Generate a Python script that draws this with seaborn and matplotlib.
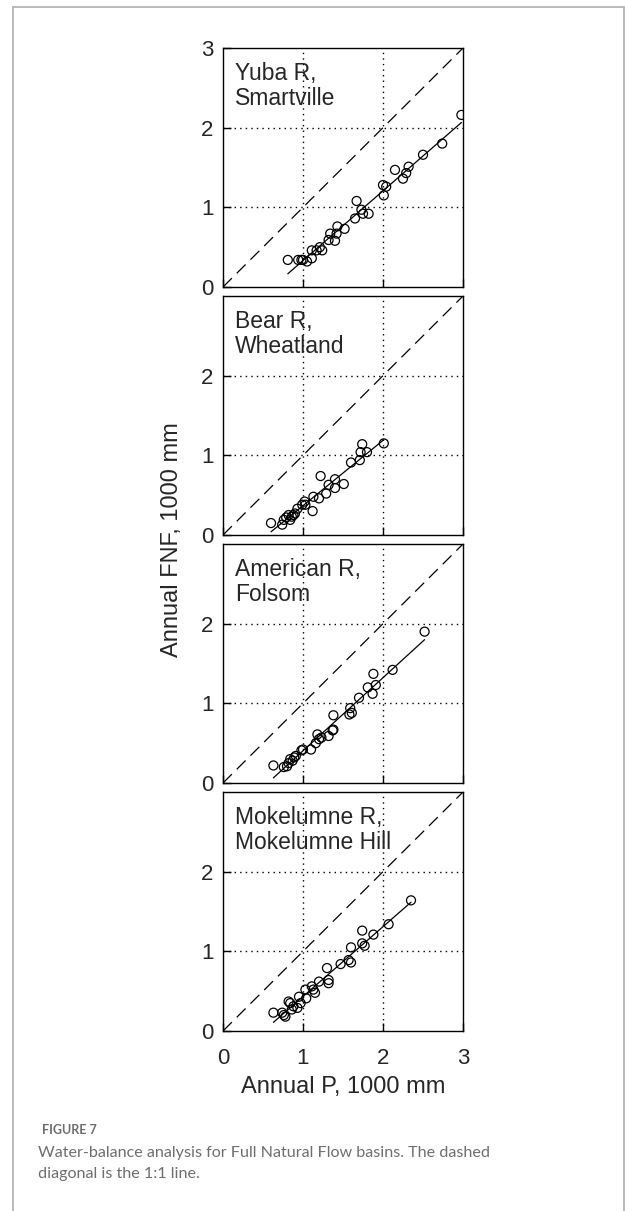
import matplotlib
matplotlib.use("Agg")
import numpy as np
import pandas as pd
import matplotlib.pyplot as plt
import seaborn as sns
from matplotlib.lines import Line2D

# annual precipitation (x) and full natural flow (y), 1000 mm
yuba_p = [0.81, 0.94, 0.98, 1.00, 1.05, 1.11, 1.11, 1.17, 1.21, 1.24, 1.32, 1.34, 1.40,
          1.42, 1.43, 1.52, 1.65, 1.67, 1.73, 1.75, 1.82, 2.00, 2.04, 2.01, 2.15, 2.25,
          2.29, 2.32, 2.50, 2.74, 2.98]
yuba_q = [0.34, 0.34, 0.34, 0.34, 0.32, 0.36, 0.46, 0.46, 0.50, 0.46, 0.59, 0.67, 0.58,
          0.67, 0.76, 0.73, 0.86, 1.08, 0.97, 0.92, 0.92, 1.28, 1.26, 1.15, 1.47, 1.36,
          1.43, 1.51, 1.66, 1.80, 2.16]

bear_p = [0.60, 0.74, 0.76, 0.79, 0.82, 0.84, 0.86, 0.88, 0.90, 0.93, 0.99, 1.02, 1.03,
          1.12, 1.13, 1.20, 1.22, 1.29, 1.32, 1.40, 1.40, 1.51, 1.60, 1.71, 1.72, 1.74,
          1.80, 2.01]
bear_q = [0.15, 0.13, 0.19, 0.22, 0.25, 0.19, 0.23, 0.25, 0.27, 0.33, 0.38, 0.42, 0.38,
          0.30, 0.48, 0.46, 0.74, 0.52, 0.63, 0.70, 0.59, 0.64, 0.91, 0.94, 1.04, 1.14,
          1.04, 1.15]

american_p = [0.63, 0.76, 0.80, 0.82, 0.84, 0.87, 0.89, 0.91, 0.98, 1.00, 1.10, 1.16, 1.18,
              1.20, 1.23, 1.32, 1.37, 1.38, 1.38, 1.58, 1.59, 1.61, 1.70, 1.81, 1.87, 1.88,
              1.91, 2.12, 2.52]
american_q = [0.22, 0.20, 0.21, 0.25, 0.30, 0.28, 0.32, 0.34, 0.41, 0.42, 0.42, 0.50, 0.61,
              0.55, 0.57, 0.59, 0.66, 0.67, 0.85, 0.86, 0.94, 0.88, 1.07, 1.20, 1.12, 1.37,
              1.23, 1.42, 1.90]

mokelumne_p = [0.63, 0.74, 0.76, 0.78, 0.82, 0.84, 0.86, 0.88, 0.93, 0.95, 0.97, 1.03, 1.04,
               1.11, 1.13, 1.15, 1.20, 1.30, 1.32, 1.32, 1.47, 1.57, 1.60, 1.60, 1.74, 1.74,
               1.77, 1.88, 2.07, 2.35]
mokelumne_q = [0.23, 0.23, 0.20, 0.18, 0.37, 0.35, 0.27, 0.31, 0.29, 0.43, 0.35, 0.52, 0.41,
               0.56, 0.52, 0.48, 0.62, 0.79, 0.64, 0.60, 0.84, 0.89, 1.05, 0.86, 1.26, 1.10,
               1.07, 1.21, 1.34, 1.64]

basins = ["Yuba R,\nSmartville", "Bear R,\nWheatland", "American R,\nFolsom",
          "Mokelumne R,\nMokelumne Hill"]
precip = [yuba_p, bear_p, american_p, mokelumne_p]
flow = [yuba_q, bear_q, american_q, mokelumne_q]

sns.set_style("ticks")
plt.rcParams['font.family'] = ['Liberation Sans', 'DejaVu Sans']

W, H = 625, 1211
fig = plt.figure(figsize=(W / 100, H / 100), dpi=100)

panel_left, panel_w, panel_h = 223, 240, 239
panel_tops = [48, 296, 544, 792]

for i, (name, p, q) in enumerate(zip(basins, precip, flow)):
    top = panel_tops[i]
    ax = fig.add_axes([panel_left / W, 1 - (top + panel_h) / H, panel_w / W, panel_h / H])
    df = pd.DataFrame({"P": p, "FNF": q})

    # dotted grid at 1 and 2
    for v in (1, 2):
        ax.axvline(v, color="k", lw=1.0, ls=(0, (1, 3)), zorder=1)
        ax.axhline(v, color="k", lw=1.0, ls=(0, (1, 3)), zorder=1)

    # 1:1 line
    ax.plot([0, 3], [0, 3], color="k", lw=0.9, ls=(0, (10, 5.5)), zorder=2)

    sns.regplot(data=df, x="P", y="FNF", scatter=False, ci=None, ax=ax,
                line_kws={"color": "k", "lw": 0.9, "zorder": 3})
    sns.scatterplot(data=df, x="P", y="FNF", ax=ax, marker="o", s=42,
                    facecolor="none", edgecolor="k", linewidth=0.9, zorder=4)

    ax.set_xlim(0, 3)
    ax.set_ylim(0, 3)
    ax.set_xlabel("")
    ax.set_ylabel("")
    for s in ax.spines.values():
        s.set_visible(True)
        s.set_linewidth(1.0)
        s.set_color("k")

    ax.text(0.05, 0.94, name, transform=ax.transAxes, ha="left", va="top",
            fontsize=16.5, linespacing=1.1, zorder=5)

    ax.set_xticks([0, 1, 2, 3])
    ax.set_yticks([0, 1, 2, 3] if i == 0 else [0, 1, 2])
    ax.tick_params(axis="both", direction="in", length=6, width=1.0, color="k",
                   labelsize=16)
    ax.tick_params(axis="y", pad=7)
    ax.tick_params(axis="x", pad=12)
    if i < 3:
        ax.tick_params(axis="x", labelbottom=False)
    else:
        ax.set_xlabel("Annual P, 1000 mm", fontsize=17, labelpad=5)

fig.text(172 / W, 1 - 540 / H, "Annual FNF, 1000 mm", rotation=90, ha="center",
         va="center", fontsize=17)

# caption
cap_font = ['Lato', 'DejaVu Sans']
fig.text(42 / W, 1 - 1130 / H, "FIGURE 7", ha="left", va="center", fontsize=9,
         fontweight="bold", color="#6e6e6e", family=cap_font)
fig.text(38 / W, 1 - 1146 / H,
         "Water-balance analysis for Full Natural Flow basins. The dashed\n"
         "diagonal is the 1:1 line.",
         ha="left", va="top", fontsize=11.6, color="#6e6e6e", family=cap_font,
         linespacing=1.65)

# frame around the figure (left, top, right)
frame_kw = dict(color="#b4b4b4", lw=1.3, transform=fig.transFigure)
fig.add_artist(Line2D([12.5 / W, 12.5 / W], [0, 1 - 7 / H], **frame_kw))
fig.add_artist(Line2D([12.5 / W, 623.5 / W], [1 - 7 / H, 1 - 7 / H], **frame_kw))
fig.add_artist(Line2D([623.5 / W, 623.5 / W], [0, 1 - 7 / H], **frame_kw))

fig.savefig("out.png", dpi=100)
